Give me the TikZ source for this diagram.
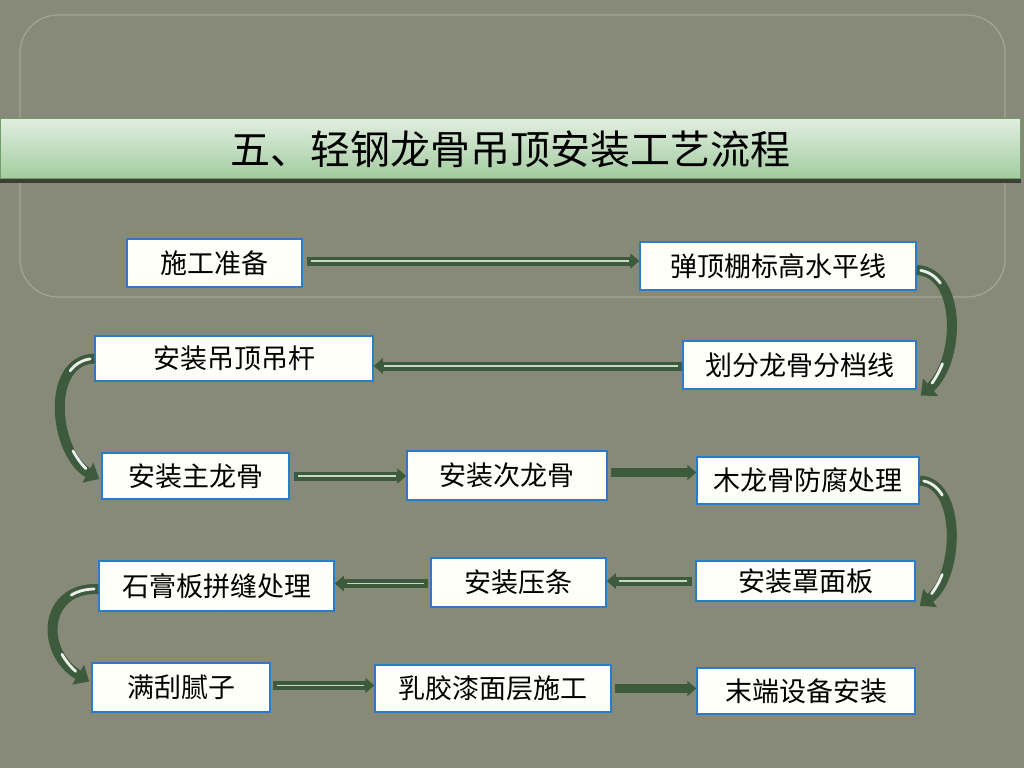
\documentclass[tikz,border=0pt]{standalone}
\usepackage{fontspec}
\newfontfamily\cjk{Noto Sans CJK SC}
\usetikzlibrary{arrows.meta}
\definecolor{bgc}{HTML}{878A78}
\definecolor{framec}{HTML}{A3A693}
\definecolor{boxblue}{HTML}{2A7CC8}
\definecolor{arrowc}{HTML}{3E5A3C}
\definecolor{innerc}{HTML}{C9D8C4}
\definecolor{titletop}{HTML}{E2EEE0}
\definecolor{titlebot}{HTML}{A3CCA0}
\definecolor{titleborder}{HTML}{6E9E6A}
\tikzset{
  stepbox/.style={draw=boxblue, line width=1.5pt, fill=white!98!yellow, inner sep=0pt,
    font=\cjk\fontsize{27}{27}\selectfont, text=black},
  flow/.style={draw=arrowc, line width=9pt, -{Triangle[length=9pt,width=15pt]}},
  flowinner/.style={draw=innerc, line width=1.4pt},
  curveflow/.style={draw=arrowc, line width=10pt, -{Triangle[length=13pt,width=22pt]}},
  hlstart/.style={draw=white, line width=2.8pt, line cap=round, opacity=0.9, dash pattern=on 24pt off 2000pt, dash phase=2020pt},
  hlend/.style={draw=white, line width=2.8pt, line cap=round, opacity=0.9, dash pattern=on 22pt off 2000pt, dash phase=2005pt}
}
\begin{document}
\begin{tikzpicture}[x=1pt,y=-1pt]
\useasboundingbox (0,0) rectangle (1024,768);
\fill[bgc] (0,0) rectangle (1024,768);
% inner frame
\draw[framec, line width=1.2pt, rounded corners=38pt] (20,15) rectangle (1005,297);
% title bar
\fill[black!55!bgc] (0,178) rectangle (1021,183);
\shade[top color=titletop, bottom color=titlebot, draw=titleborder, line width=1pt] (0,118) rectangle (1020,178);
\node[font=\cjk\fontsize{40}{40}\selectfont, text=black] (title) at (510,149) {五、轻钢龙骨吊顶安装工艺流程};
% boxes
\node[stepbox, minimum width=175pt, minimum height=48pt] (n1) at (214.5,263) {施工准备};
\node[stepbox, minimum width=276pt, minimum height=48pt] (n2) at (778,266) {弹顶棚标高水平线};
\node[stepbox, minimum width=233pt, minimum height=48pt] (n3) at (799.5,365) {划分龙骨分档线};
\node[stepbox, minimum width=278pt, minimum height=45pt] (n4) at (234,358.5) {安装吊顶吊杆};
\node[stepbox, minimum width=187pt, minimum height=46pt] (n5) at (195.5,476) {安装主龙骨};
\node[stepbox, minimum width=200pt, minimum height=49pt] (n6) at (507,475.5) {安装次龙骨};
\node[stepbox, minimum width=222pt, minimum height=47pt] (n7) at (808,480.5) {木龙骨防腐处理};
\node[stepbox, minimum width=219pt, minimum height=40pt] (n8) at (805.5,581) {安装罩面板};
\node[stepbox, minimum width=175pt, minimum height=49pt] (n9) at (518.5,582.5) {安装压条};
\node[stepbox, minimum width=235pt, minimum height=50pt] (n10) at (216.5,586) {石膏板拼缝处理};
\node[stepbox, minimum width=178pt, minimum height=49pt] (n11) at (181,687.5) {满刮腻子};
\node[stepbox, minimum width=236pt, minimum height=47pt] (n12) at (493,688.5) {乳胶漆面层施工};
\node[stepbox, minimum width=218pt, minimum height=46pt] (n13) at (806,691) {末端设备安装};
% straight arrows
\coordinate (a1e) at ([yshift=2pt]n1.east -| n2.west);
\draw[flow, shorten <=4pt] ([yshift=2pt]n1.east) -- (a1e);
\draw[flowinner] ([xshift=8pt,yshift=2pt]n1.east) -- ([xshift=-10pt]a1e);

\coordinate (a3e) at ([yshift=-1pt]n3.west -| n4.east);
\draw[flow] ([yshift=-1pt]n3.west) -- (a3e);
\draw[flowinner] ([xshift=-4pt,yshift=-1pt]n3.west) -- ([xshift=10pt]a3e);

\coordinate (a5e) at (n5.east -| n6.west);
\draw[flow, shorten <=4pt] (n5.east) -- (a5e);
\draw[flowinner] ([xshift=8pt]n5.east) -- ([xshift=-10pt]a5e);

\coordinate (a6e) at ([yshift=3pt]n6.east -| n7.west);
\draw[flow, shorten <=3pt] ([yshift=3pt]n6.east) -- (a6e);

\coordinate (a8e) at (n8.west -| n9.east);
\draw[flow, shorten <=3pt] (n8.west) -- (a8e);
\draw[flowinner] ([xshift=-8pt]n8.west) -- ([xshift=12pt]a8e);

\coordinate (a9e) at ([yshift=-1pt]n9.west -| n10.east);
\draw[flow, shorten <=2pt] ([yshift=-1pt]n9.west) -- (a9e);
\draw[flowinner] ([xshift=-6pt,yshift=-1pt]n9.west) -- ([xshift=12pt]a9e);

\coordinate (a11e) at ([yshift=2pt]n11.east -| n12.west);
\draw[flow, shorten <=2pt] ([yshift=2pt]n11.east) -- (a11e);
\draw[flowinner] ([xshift=6pt,yshift=2pt]n11.east) -- ([xshift=-10pt]a11e);

\coordinate (a12e) at (n12.east -| n13.west);
\draw[flow, shorten <=3pt] (n12.east) -- (a12e);
% curved arrows
\coordinate (c2s) at ([yshift=-4pt]n2.east);
\coordinate (c2e) at ([xshift=4pt,yshift=-6pt]n3.south east);
\draw[curveflow] (c2s) .. controls +(45,2) and +(40,-35) .. (c2e);
\draw[hlstart] (c2s) .. controls +(45,2) and +(40,-35) .. (c2e);
\draw[hlend] (c2e) .. controls +(40,-35) and +(45,2) .. (c2s);

\coordinate (c4s) at (n4.west);
\coordinate (c4e) at ([xshift=-2pt,yshift=-3pt]n5.west);
\draw[curveflow] (c4s) .. controls +(-50,2) and +(-45,-25) .. (c4e);
\draw[hlstart] (c4s) .. controls +(-50,2) and +(-45,-25) .. (c4e);
\draw[hlend] (c4e) .. controls +(-45,-25) and +(-50,2) .. (c4s);

\coordinate (c7s) at (n7.east);
\coordinate (c7e) at ([xshift=4pt,yshift=-4pt]n8.south east);
\draw[curveflow] (c7s) .. controls +(42,2) and +(40,-30) .. (c7e);
\draw[hlstart] (c7s) .. controls +(42,2) and +(40,-30) .. (c7e);
\draw[hlend] (c7e) .. controls +(40,-30) and +(42,2) .. (c7s);

\coordinate (c10s) at ([yshift=-3pt]n10.west);
\coordinate (c10e) at ([xshift=-2pt,yshift=6pt]n11.west);
\draw[curveflow] (c10s) .. controls +(-55,-2) and +(-50,-30) .. (c10e);
\draw[hlstart] (c10s) .. controls +(-55,-2) and +(-50,-30) .. (c10e);
\draw[hlend] (c10e) .. controls +(-50,-30) and +(-55,-2) .. (c10s);
\end{tikzpicture}
\end{document}
